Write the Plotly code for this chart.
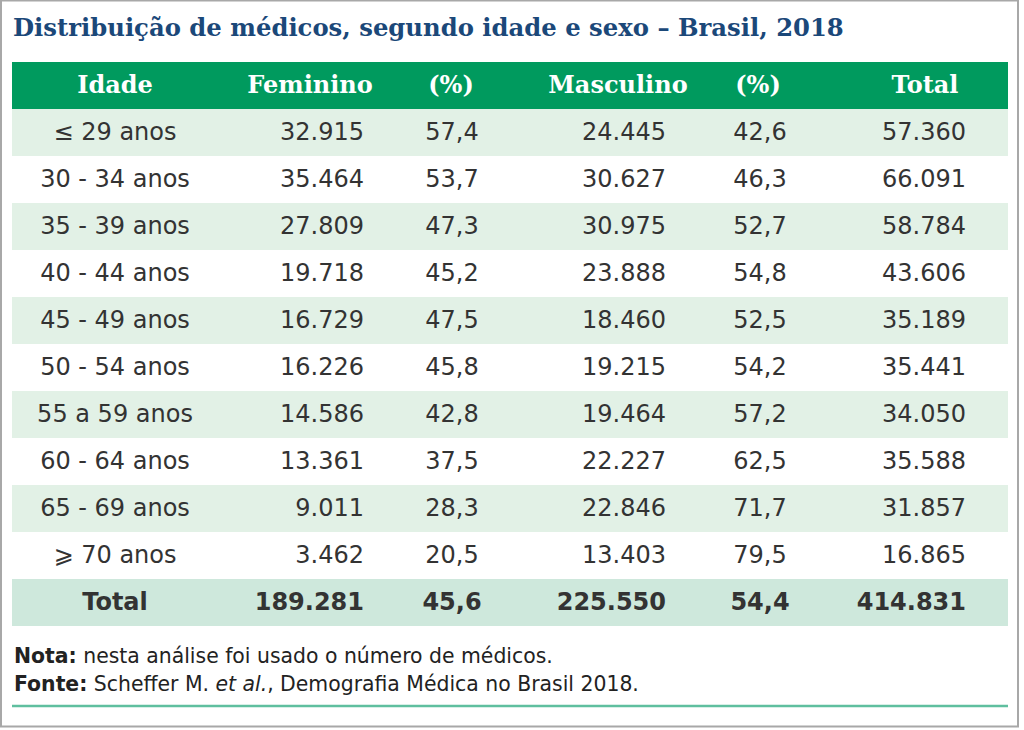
import plotly.graph_objects as go

# ---------------- data ----------------
title_text = "Distribuição de médicos, segundo idade e sexo – Brasil, 2018"
headers = ["Idade", "Feminino", "(%)", "Masculino", "(%)", "Total"]
idade = ["≤ 29 anos", "30 - 34 anos", "35 - 39 anos", "40 - 44 anos", "45 - 49 anos",
         "50 - 54 anos", "55 a 59 anos", "60 - 64 anos", "65 - 69 anos", "⩾ 70 anos"]
feminino = [32915, 35464, 27809, 19718, 16729, 16226, 14586, 13361, 9011, 3462]
fem_pct = [57.4, 53.7, 47.3, 45.2, 47.5, 45.8, 42.8, 37.5, 28.3, 20.5]
masculino = [24445, 30627, 30975, 23888, 18460, 19215, 19464, 22227, 22846, 13403]
masc_pct = [42.6, 46.3, 52.7, 54.8, 52.5, 54.2, 57.2, 62.5, 71.7, 79.5]
total = [57360, 66091, 58784, 43606, 35189, 35441, 34050, 35588, 31857, 16865]
total_row = ["Total", 189281, 45.6, 225550, 54.4, 414831]
nota = "<b>Nota:</b> nesta análise foi usado o número de médicos."
fonte = "<b>Fonte:</b> Scheffer M. <i>et al.</i>, Demografia Médica no Brasil 2018."

# ---------------- style ----------------
W, H = 1024, 730
TL, TR = 12, 1008
HEAD_TOP, ROW_H = 62, 47
GREEN = "#009a5e"
LIGHT = "#e2f1e6"
TOTAL_FILL = "#cee8dc"
TITLE_BLUE = "#1b4879"
TXT = "#333333"
LINE = "#5fbf9f"
SANS = "DejaVu Sans"
SERIF = "DejaVu Serif"

# column anchors: (x for header center, x for cell anchor, cell textposition)
col_head_x = [115, 310, 451, 618, 758, 925]
col_cell_x = [115, 364, 452, 666, 760, 966]
col_pos = ["middle center", "middle left", "middle center", "middle left", "middle center", "middle left"]


def fmt_int(v):
    return f"{v:,}".replace(",", ".")


def fmt_pct(v):
    return f"{v:.1f}".replace(".", ",")


columns = [idade,
           [fmt_int(v) for v in feminino],
           [fmt_pct(v) for v in fem_pct],
           [fmt_int(v) for v in masculino],
           [fmt_pct(v) for v in masc_pct],
           [fmt_int(v) for v in total]]
total_strs = [total_row[0], fmt_int(total_row[1]), fmt_pct(total_row[2]),
              fmt_int(total_row[3]), fmt_pct(total_row[4]), fmt_int(total_row[5])]

n = len(idade)
row_center = [HEAD_TOP + ROW_H * (i + 1) + ROW_H / 2 + 1.5 for i in range(n)]
head_center = HEAD_TOP + ROW_H / 2 + 1
total_center = HEAD_TOP + ROW_H * (n + 1) + ROW_H / 2 + 1

fig = go.Figure()

# header text
fig.add_trace(go.Scatter(
    x=col_head_x, y=[head_center] * len(headers), text=headers, mode="text",
    textposition="middle center",
    textfont=dict(family=SERIF, size=24, color="white", weight="bold"),
    hoverinfo="skip", showlegend=False))

# body columns
for j, col in enumerate(columns):
    fig.add_trace(go.Scatter(
        x=[col_cell_x[j]] * n, y=row_center, text=col, mode="text",
        textposition=col_pos[j],
        textfont=dict(family=SANS, size=24, color=TXT),
        hoverinfo="skip", showlegend=False))

# total row
for j, s in enumerate(total_strs):
    fig.add_trace(go.Scatter(
        x=[col_cell_x[j] if j != 0 else col_head_x[0]], y=[total_center], text=[s], mode="text",
        textposition=col_pos[j],
        textfont=dict(family=SANS, size=24, color=TXT, weight="bold"),
        hoverinfo="skip", showlegend=False))

shapes = []
shapes.append(dict(type="rect", xref="x", yref="y", x0=TL, x1=TR, y0=HEAD_TOP, y1=HEAD_TOP + ROW_H,
                   fillcolor=GREEN, line_width=0, layer="below"))
for i in range(n + 1):
    top = HEAD_TOP + ROW_H * (i + 1)
    if i == n:
        c = TOTAL_FILL
    elif i % 2 == 0:
        c = LIGHT
    else:
        continue
    shapes.append(dict(type="rect", xref="x", yref="y", x0=TL, x1=TR, y0=top, y1=top + ROW_H,
                       fillcolor=c, line_width=0, layer="below"))
# bottom rule
shapes.append(dict(type="line", xref="x", yref="y", x0=TL, x1=TR, y0=706, y1=706,
                   line=dict(color=LINE, width=2.5)))
# outer frame
shapes.append(dict(type="rect", xref="x", yref="y", x0=1, x1=1018, y0=0.5, y1=726.5,
                   line=dict(color="#a8a8a8", width=2), fillcolor="rgba(0,0,0,0)"))

annotations = [
    dict(text=f"<b>{title_text}</b>", x=TL - 1, y=27, xref="x", yref="y", xanchor="left",
         yanchor="middle", showarrow=False,
         font=dict(family=SERIF, size=24.3, color=TITLE_BLUE)),
    dict(text=nota, x=TL, y=656, xref="x", yref="y", xanchor="left", yanchor="middle",
         showarrow=False, font=dict(family=SANS, size=20.4, color="#222222")),
    dict(text=fonte, x=TL, y=684, xref="x", yref="y", xanchor="left", yanchor="middle",
         showarrow=False, font=dict(family=SANS, size=20.4, color="#222222")),
]

fig.update_layout(
    width=W, height=H, margin=dict(l=0, r=0, t=0, b=0),
    paper_bgcolor="white", plot_bgcolor="white",
    xaxis=dict(range=[0, W], visible=False, fixedrange=True),
    yaxis=dict(range=[H, 0], visible=False, fixedrange=True),
    shapes=shapes, annotations=annotations,
)

fig.write_html("out.html", config={"displayModeBar": False},
               post_script="document.body.style.margin='0';document.body.style.overflow='hidden';")
